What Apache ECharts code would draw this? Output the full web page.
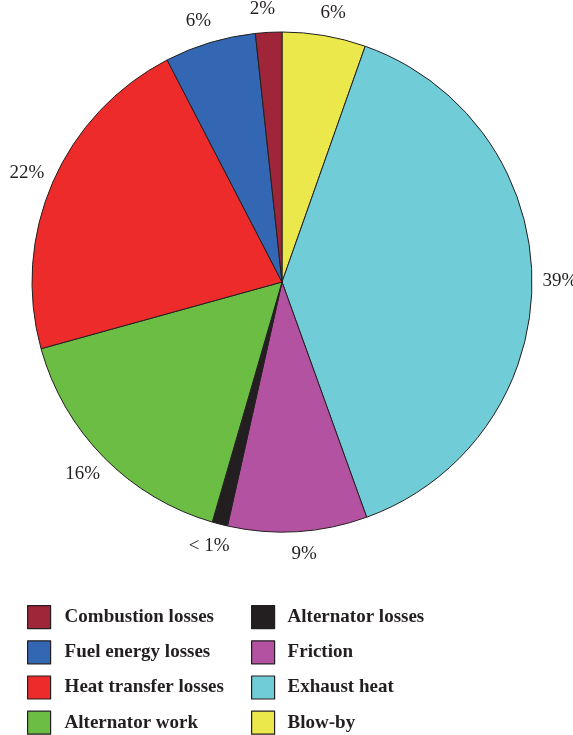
<!DOCTYPE html>
<html>
<head>
<meta charset="utf-8">
<script src="https://cdn.jsdelivr.net/npm/echarts@6/dist/echarts.min.js"></script>
<style>html,body{margin:0;padding:0;background:#fff}#c{width:573px;height:735px}</style>
</head>
<body>
<div id="c"></div>
<script>
// Clockwise from 12 o'clock
const categories = ["Blow-by", "Exhaust heat", "Friction", "Alternator losses", "Alternator work", "Heat transfer losses", "Fuel energy losses", "Combustion losses"];
const values = [5.4, 39.1, 9.0, 1.0, 16.2, 21.7, 5.9, 1.7];
const labels = ["6%", "39%", "9%", "< 1%", "16%", "22%", "6%", "2%"];
const colors = ["#ebe84b", "#70ccd7", "#b252a0", "#231f20", "#6bbd44", "#ee2b2b", "#3366b3", "#9e2638"];
const legendCol1 = ["Combustion losses", "Fuel energy losses", "Heat transfer losses", "Alternator work"];
const legendCol2 = ["Alternator losses", "Friction", "Exhaust heat", "Blow-by"];

const chart = echarts.init(document.getElementById('c'), null, {renderer: 'canvas'});
const legendBase = {
  orient: 'vertical',
  top: 605,
  height: 130,
  padding: 0,
  itemWidth: 23,
  itemHeight: 23,
  itemGap: 11,
  icon: 'rect',
  itemStyle: {borderColor: '#231f20', borderWidth: 1.2},
  textStyle: {fontFamily: 'Liberation Serif', fontWeight: 'bold', fontSize: 19, color: '#231f20'},
  selectedMode: false
};
chart.setOption({
  animation: false,
  legend: [
    Object.assign({}, legendBase, {left: 27, data: legendCol1, textStyle: Object.assign({}, legendBase.textStyle, {padding: [0, 0, 0, 9]})}),
    Object.assign({}, legendBase, {left: 251, data: legendCol2, textStyle: Object.assign({}, legendBase.textStyle, {padding: [0, 0, 0, 8]})})
  ],
  series: [{
    type: 'pie',
    center: [282, 282],
    radius: 250,
    startAngle: 90,
    clockwise: true,
    avoidLabelOverlap: false,
    itemStyle: {borderColor: '#231f20', borderWidth: 1},
    label: {
      show: true,
      position: 'outside',
      fontFamily: 'Liberation Serif',
      fontSize: 19,
      color: '#231f20',
      formatter: p => labels[p.dataIndex]
    },
    labelLine: {show: false, length: 23, length2: 0},
    labelLayout: () => ({align: 'center'}),
    emphasis: {disabled: true},
    data: categories.map((n, i) => ({name: n, value: values[i], itemStyle: {color: colors[i]}}))
  }]
});
</script>
</body>
</html>
